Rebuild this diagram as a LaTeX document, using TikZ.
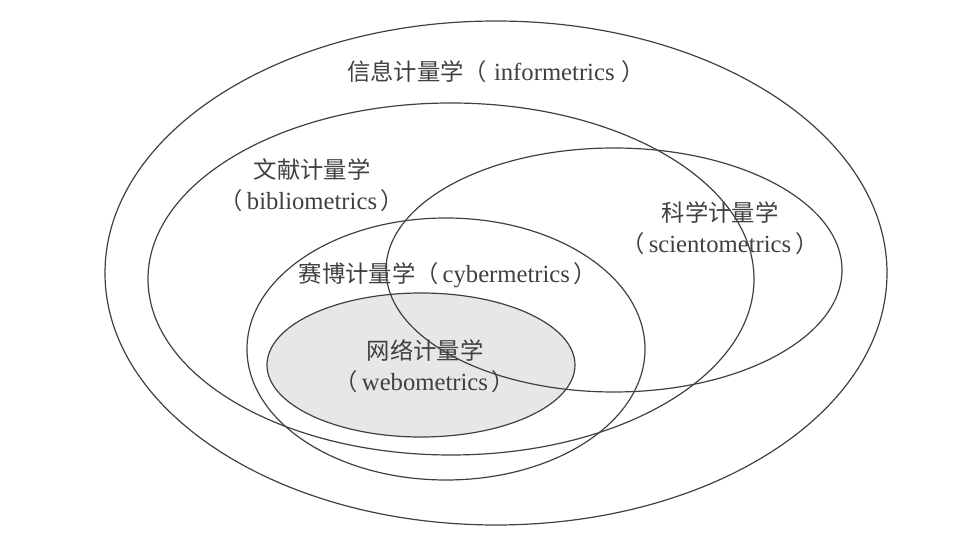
\documentclass[tikz,border=0pt]{standalone}
\usepackage{fontspec}
\setmainfont{Liberation Serif}
\newfontfamily\cjk{Noto Sans CJK SC}
\usepackage{tikz}

\tikzset{
  ring/.style={draw=black!75, line width=0.9pt},
  lbl/.style={text=black!75, font=\fontsize{17.5}{23}\selectfont, align=center}
}

\begin{document}
\begin{tikzpicture}[x=0.75pt, y=-0.75pt]
    \useasboundingbox (0, 0) rectangle (976, 548);

    % Webometrics fill
    \fill[black!4!gray!18] (421, 365) ellipse (154 and 72);

    % Rings
    \draw[ring] (496, 273) ellipse (391 and 252);
    \draw[ring] (451, 279) ellipse (303 and 176);
    \draw[ring] (614, 270) ellipse (228 and 122);
    \draw[ring] (446, 349) ellipse (199 and 131);
    \draw[ring] (421, 365) ellipse (154 and 72);

    % Labels
    \node[lbl] (info) at (496, 72) {{\cjk 信息计量学（}\hspace{0.3em}{\fontsize{18.5}{23}\selectfont informetrics}\hspace{0.3em}{\cjk ）}};
    \node[lbl] (biblio) at (312, 185) {{\cjk 文献计量学}\\{\cjk （}\,{\fontsize{18.5}{23}\selectfont bibliometrics}\,{\cjk ）}};
    \node[lbl] (scient) at (720, 228) {{\cjk 科学计量学}\\{\cjk （}\,{\fontsize{18.5}{23}\selectfont scientometrics}\,{\cjk ）}};
    \node[lbl] (cyber) at (448, 275) {{\cjk 赛博计量学（}\,{\fontsize{18.5}{23}\selectfont cybermetrics}\,{\cjk ）}};
    \node[lbl] (webo) at (425, 366) {{\cjk 网络计量学}\\{\cjk （}\,{\fontsize{18.5}{23}\selectfont webometrics}\,{\cjk ）}};
\end{tikzpicture}
\end{document}
